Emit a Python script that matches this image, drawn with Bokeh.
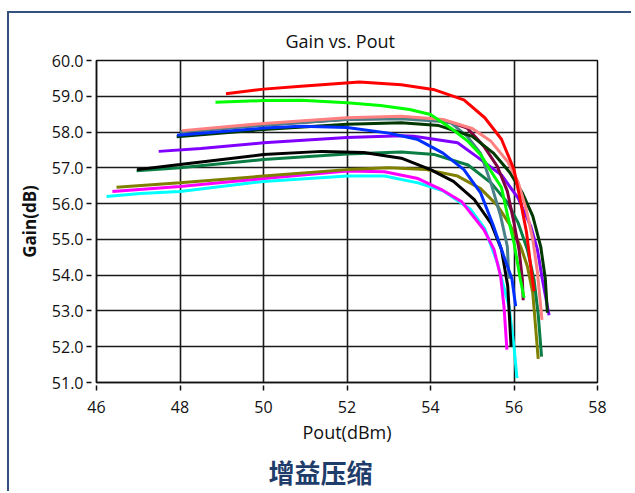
from bokeh.plotting import figure
from bokeh.models import Range1d, FixedTicker, NumeralTickFormatter, Title
from bokeh.embed import file_html
from bokeh.resources import INLINE

# ---- data ----
x_ticks = [46, 48, 50, 52, 54, 56, 58]
y_ticks = [51, 52, 53, 54, 55, 56, 57, 58, 59, 60]

cyan_x = [46.24, 47.05, 48.0, 50.0, 52.0, 52.9, 53.7, 54.3, 54.95, 55.3, 55.6, 55.88, 56.0, 56.07]
cyan_y = [56.2, 56.28, 56.34, 56.62, 56.77, 56.77, 56.58, 56.36, 55.85, 55.3, 54.35, 53.13, 52.0, 51.12]

magenta_x = [46.38, 48.0, 50.0, 52.0, 52.9, 53.7, 54.25, 54.75, 55.28, 55.52, 55.68, 55.76, 55.83]
magenta_y = [56.34, 56.48, 56.7, 56.91, 56.89, 56.7, 56.4, 56.05, 55.27, 54.72, 53.97, 53.13, 51.92]

olive_x = [46.48, 48.0, 50.0, 52.0, 53.0, 53.9, 54.65, 55.2, 55.6, 55.92, 56.16, 56.32, 56.45, 56.58]
olive_y = [56.46, 56.58, 56.77, 56.95, 57.0, 56.95, 56.77, 56.42, 55.95, 55.37, 54.8, 54.25, 53.5, 51.66]

teal_x = [46.96, 48.0, 50.0, 52.0, 53.3, 54.1, 54.9, 55.45, 55.85, 56.1, 56.32, 56.48, 56.58, 56.66]
teal_y = [56.92, 57.0, 57.23, 57.39, 57.44, 57.37, 57.08, 56.58, 56.02, 55.46, 54.72, 53.88, 52.9, 51.72]

black_x = [46.97, 48.0, 50.0, 51.4, 52.4, 53.3, 54.0, 54.55, 55.05, 55.45, 55.7, 55.85, 55.93]
black_y = [56.95, 57.09, 57.37, 57.46, 57.43, 57.27, 56.95, 56.62, 56.11, 55.45, 54.72, 53.7, 52.0]

purple_x = [47.49, 48.5, 50.0, 52.0, 53.3, 53.6, 54.65, 55.1, 55.7, 56.1, 56.4, 56.56, 56.68, 56.84]
purple_y = [57.46, 57.54, 57.7, 57.85, 57.9, 57.88, 57.7, 57.32, 56.8, 56.15, 55.37, 54.72, 53.88, 52.88]

maroon_x = [48.0, 50.0, 52.0, 53.5, 54.4, 54.88, 55.28, 55.6, 55.84, 56.0, 56.12, 56.2, 56.22]
maroon_y = [58.0, 58.2, 58.36, 58.39, 58.3, 58.11, 57.6, 57.04, 56.35, 55.46, 54.72, 53.88, 53.3]

steel_x = [48.0, 50.0, 52.0, 53.3, 54.2, 54.5, 54.88, 55.2, 55.44, 55.68, 55.84, 55.88]
steel_y = [58.0, 58.2, 58.35, 58.37, 58.3, 58.25, 57.88, 57.4, 56.6, 55.65, 54.8, 53.9]

dkgreen_x = [47.92, 50.0, 52.0, 53.3, 54.2, 55.0, 55.5, 55.9, 56.2, 56.45, 56.64, 56.75, 56.8]
dkgreen_y = [57.87, 58.07, 58.22, 58.26, 58.18, 57.88, 57.42, 56.87, 56.3, 55.65, 54.8, 53.9, 52.95]

blue_x = [47.93, 50.0, 50.9, 52.0, 53.0, 53.7, 54.3, 54.8, 55.2, 55.5, 55.75, 55.95, 56.04]
blue_y = [57.91, 58.11, 58.16, 58.13, 57.97, 57.79, 57.41, 56.95, 56.3, 55.4, 54.55, 53.9, 53.13]

salmon_x = [48.05, 50.0, 52.0, 53.3, 54.3, 55.0, 55.45, 55.85, 56.1, 56.3, 56.45, 56.56, 56.67]
salmon_y = [58.04, 58.24, 58.4, 58.44, 58.35, 58.1, 57.74, 57.17, 56.6, 55.8, 55.0, 54.1, 52.75]

lime_x = [48.85, 50.0, 50.9, 52.0, 52.8, 53.5, 54.0, 54.5, 54.9, 55.2, 55.45, 55.7, 55.85, 56.0, 56.15, 56.24]
lime_y = [58.83, 58.88, 58.89, 58.82, 58.74, 58.63, 58.49, 58.1, 57.74, 57.37, 56.9, 56.45, 55.65, 54.9, 53.9, 53.37]

red_x = [49.1, 50.0, 50.9, 52.3, 53.3, 54.1, 54.8, 55.3, 55.7, 56.0, 56.15, 56.3, 56.4, 56.48]
red_y = [59.07, 59.2, 59.28, 59.4, 59.32, 59.18, 58.9, 58.4, 57.8, 56.95, 56.1, 55.2, 54.25, 53.55]

series = [
    (cyan_x, cyan_y, "#00ffff"),
    (magenta_x, magenta_y, "#ff00ff"),
    (olive_x, olive_y, "#808000"),
    (teal_x, teal_y, "#0a7d45"),
    (black_x, black_y, "#000000"),
    (purple_x, purple_y, "#8000ff"),
    (maroon_x, maroon_y, "#800040"),
    (steel_x, steel_y, "#4a8088"),
    (dkgreen_x, dkgreen_y, "#003800"),
    (blue_x, blue_y, "#0030ff"),
    (salmon_x, salmon_y, "#ff8080"),
    (lime_x, lime_y, "#00ff00"),
    (red_x, red_y, "#ff0000"),
]

FONT = "Open Sans"

p = figure(width=624, height=480,
           x_range=Range1d(46, 58), y_range=Range1d(51, 60),
           output_backend="svg", toolbar_location=None,
           min_border_left=87, min_border_right=36,
           min_border_top=47, min_border_bottom=110)

p.styles = {"border-left": "2px solid #34527e", "border-top": "2px solid #34527e",
            "margin-left": "7px", "margin-top": "11px"}

p.background_fill_color = "white"
p.border_fill_color = "white"
p.outline_line_color = "#111111"
p.outline_line_width = 1.5

p.title.text = "Gain vs. Pout"
p.title.align = "left"
p.title.offset = 189
p.title.text_font = FONT
p.title.text_font_size = "18px"
p.title.text_font_style = "normal"
p.title.text_color = "#111111"
p.title.standoff = 16

for ln_x, ln_y, col in series:
    p.line(ln_x, ln_y, line_color=col, line_width=3)

# axes
p.xaxis.ticker = FixedTicker(ticks=x_ticks)
p.yaxis.ticker = FixedTicker(ticks=y_ticks)
p.yaxis.formatter = NumeralTickFormatter(format="0.0")
for ax in (p.xaxis[0], p.yaxis[0]):
    ax.axis_line_color = "#111111"
    ax.axis_line_width = 1.5
    ax.major_tick_line_color = "#111111"
    ax.major_tick_line_width = 1.5
    ax.minor_tick_line_color = None
    ax.major_label_text_font = FONT
    ax.major_label_text_font_size = "16px"
    ax.major_label_text_color = "#111111"
    ax.axis_label_text_font = FONT
    ax.axis_label_text_color = "#111111"

p.xaxis.major_tick_in = -3
p.xaxis.major_tick_out = 8
p.xaxis.major_label_standoff = 10
p.xaxis.axis_label = "Pout(dBm)"
p.xaxis.axis_label_text_font_size = "18px"
p.xaxis.axis_label_text_font_style = "normal"
p.xaxis.axis_label_standoff = 4

p.yaxis.major_tick_in = -5
p.yaxis.major_tick_out = 10
p.yaxis.major_label_standoff = 3
p.yaxis.axis_label = "Gain(dB)"
p.yaxis.axis_label_text_font_size = "17px"
p.yaxis.axis_label_text_font_style = "bold"
p.yaxis.axis_label_standoff = 8

p.xgrid.ticker = FixedTicker(ticks=x_ticks)
p.ygrid.ticker = FixedTicker(ticks=y_ticks)
p.grid.grid_line_color = "#1a1a1a"
p.grid.grid_line_width = 1.6

caption = Title(text="增益压缩", align="left", offset=172,
                text_font="Noto Sans CJK SC", text_font_size="26px",
                text_font_style="bold", text_color="#1f3d6b", standoff=8)
p.add_layout(caption, "below")

open("out.html", "w").write(file_html(p, INLINE))
